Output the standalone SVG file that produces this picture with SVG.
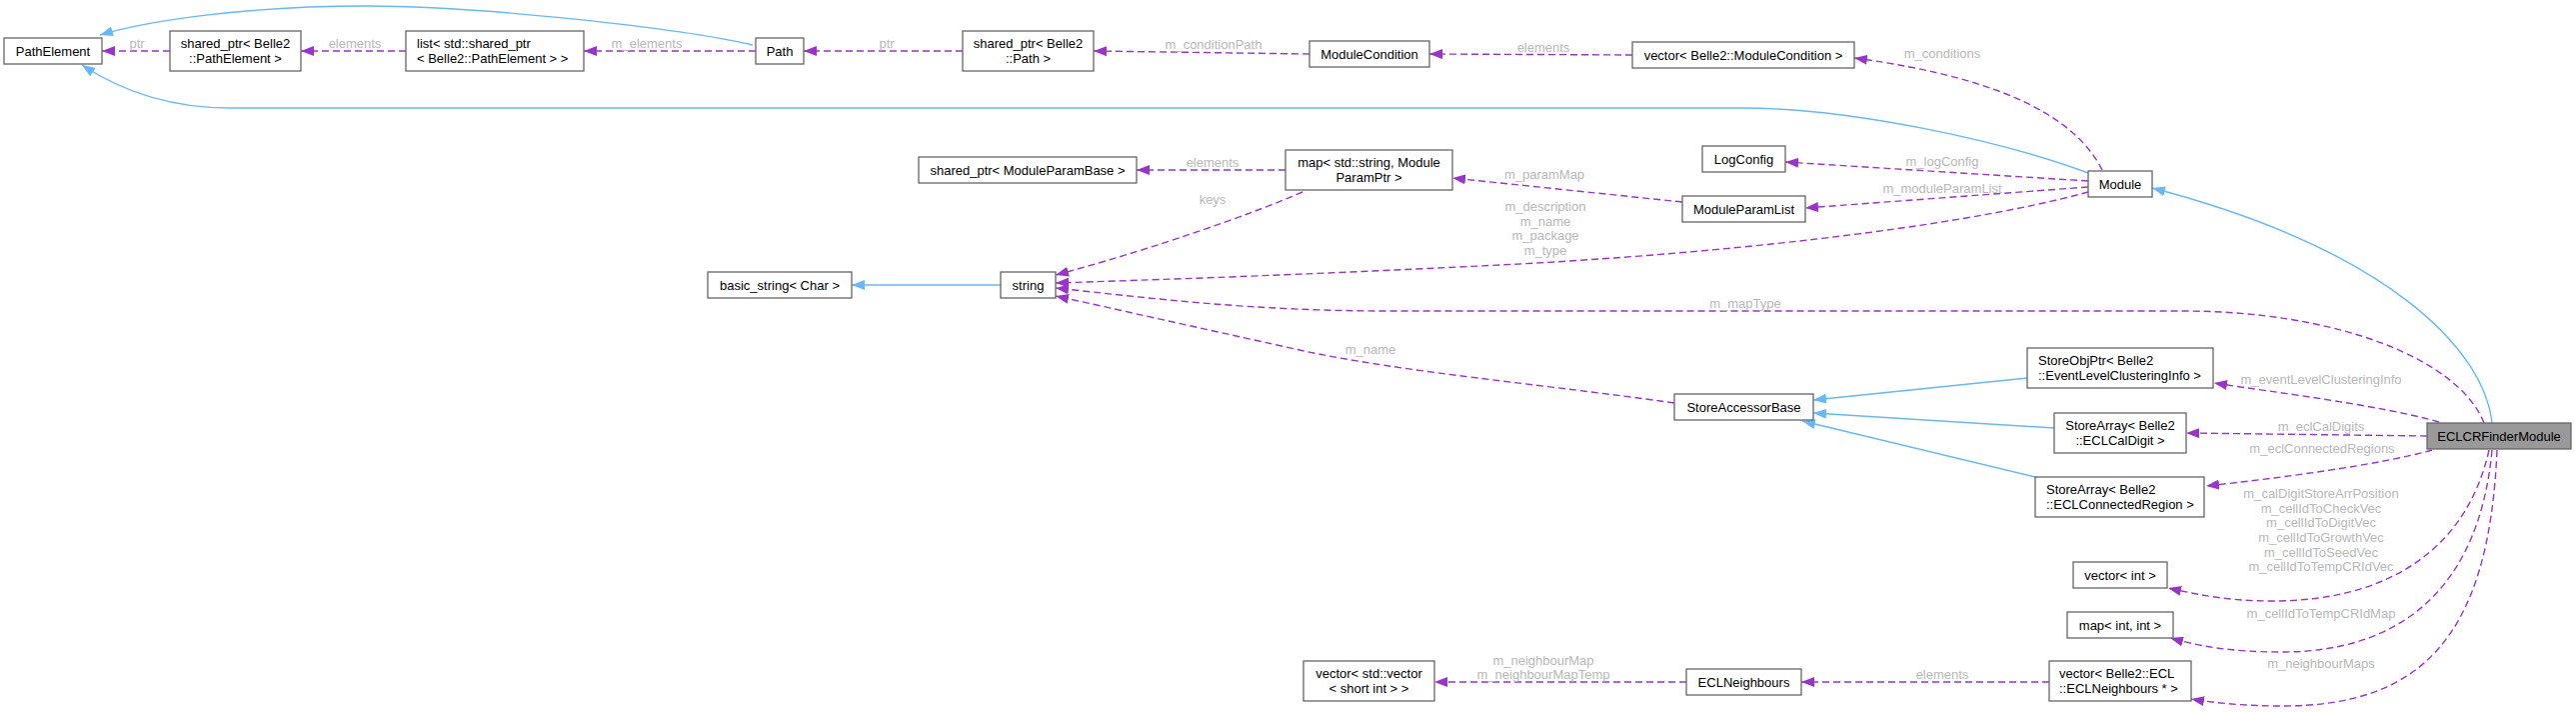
<svg xmlns="http://www.w3.org/2000/svg" width="2577" height="712" viewBox="0 0 2577 712">
<defs>
<style>
.n rect{fill:#ffffff;stroke:#666666;stroke-width:1.3}
.n.cur rect{fill:#999999}
.t{font-family:"Liberation Sans",Arial,sans-serif;font-size:13px;fill:#000000}
.c{text-anchor:middle}
.l{font-family:"Liberation Sans",Arial,sans-serif;font-size:13px;fill:#b8b8b8;text-anchor:middle}
.dep{fill:none;stroke:#9a32cd;stroke-width:1.4;stroke-dasharray:7,4;marker-end:url(#ap)}
.inh{fill:none;stroke:#63b8ff;stroke-width:1.4;marker-end:url(#ab)}
</style>
<marker id="ap" viewBox="0 0 13 10" refX="13" refY="5" markerWidth="13" markerHeight="10" markerUnits="userSpaceOnUse" orient="auto"><path d="M0,0 L13,5 L0,10 z" fill="#9a32cd" stroke="none"/></marker>
<marker id="ab" viewBox="0 0 13 10" refX="13" refY="5" markerWidth="13" markerHeight="10" markerUnits="userSpaceOnUse" orient="auto"><path d="M0,0 L13,5 L0,10 z" fill="#63b8ff" stroke="none"/></marker>
</defs>
<rect x="0" y="0" width="2577" height="712" fill="#ffffff"/>
<g id="edges">
<path class="dep" d="M170,51 L102,51"/>
<path class="dep" d="M406,51 L301,51"/>
<path class="dep" d="M756,51 L584,51"/>
<path class="dep" d="M963,51 L804,51"/>
<path class="dep" d="M1310,54 L1094,51"/>
<path class="dep" d="M1633,55 L1430,54"/>
<path class="dep" d="M2103,170 C2080,125 2020,80 1855,58"/>
<path class="dep" d="M2089,181 L1786,162"/>
<path class="dep" d="M2089,187 L1806,208"/>
<path class="dep" d="M2089,192 C1950,230 1700,255 1500,265 S1150,280 1056,283"/>
<path class="dep" d="M1286,170 L1137,170"/>
<path class="dep" d="M1683,202 L1453,178"/>
<path class="dep" d="M1303,192 C1250,215 1150,250 1056,275"/>
<path class="dep" d="M2485,423 C2460,360 2340,311 2183,311 L1390,311 C1250,311 1150,298 1056,288"/>
<path class="dep" d="M1675,403 C1550,385 1400,372 1300,350 S1120,310 1056,296"/>
<path class="inh" d="M2089,173 C2000,140 1850,108 1743,108 L230,108 C170,108 120,90 82,65"/>
<path class="inh" d="M753,45 C680,28 480,6 366,6 C250,6 150,20 100,35"/>
<path class="inh" d="M1001,285 L852,285"/>
<path class="inh" d="M2493,423 C2485,350 2390,250 2153,188"/>
<path class="inh" d="M2028,378 L1814,400"/>
<path class="inh" d="M2055,428 L1814,413"/>
<path class="inh" d="M2036,477 L1803,421"/>
<path class="dep" d="M2440,422 C2380,405 2280,393 2215,383"/>
<path class="dep" d="M2428,436 L2187,433"/>
<path class="dep" d="M2433,450 C2380,465 2280,478 2207,486"/>
<path class="dep" d="M2490,450 C2470,540 2400,601 2273,601 C2230,601 2200,595 2169,588"/>
<path class="dep" d="M2493,450 C2480,590 2400,652 2283,652 C2230,652 2200,646 2171,638"/>
<path class="dep" d="M2498,450 C2490,640 2420,706 2283,706 C2240,706 2210,702 2192,699"/>
<path class="dep" d="M2050,682 L1802,682"/>
<path class="dep" d="M1687,682 L1435,682"/>
<text class="l" x="137" y="47.5">ptr</text>
<text class="l" x="355" y="47.5">elements</text>
<text class="l" x="647" y="47.5">m_elements</text>
<text class="l" x="887" y="47.5">ptr</text>
<text class="l" x="1214" y="48.5">m_conditionPath</text>
<text class="l" x="1544" y="51.5">elements</text>
<text class="l" x="1943" y="57.5">m_conditions</text>
<text class="l" x="1213" y="166.5">elements</text>
<text class="l" x="1545" y="178.5">m_paramMap</text>
<text class="l" x="1213" y="203.5">keys</text>
<text class="l" x="1943" y="165.5">m_logConfig</text>
<text class="l" x="1943" y="192.5">m_moduleParamList</text>
<text class="l" x="1546" y="210.5">m_description</text>
<text class="l" x="1546" y="225.5">m_name</text>
<text class="l" x="1546" y="239.5">m_package</text>
<text class="l" x="1546" y="254.5">m_type</text>
<text class="l" x="1746" y="307.5">m_mapType</text>
<text class="l" x="1371" y="353.5">m_name</text>
<text class="l" x="2322" y="383.5">m_eventLevelClusteringInfo</text>
<text class="l" x="2322" y="430.5">m_eclCalDigits</text>
<text class="l" x="2323" y="452.5">m_eclConnectedRegions</text>
<text class="l" x="2322" y="497.5">m_calDigitStoreArrPosition</text>
<text class="l" x="2322" y="512.5">m_cellIdToCheckVec</text>
<text class="l" x="2322" y="527">m_cellIdToDigitVec</text>
<text class="l" x="2322" y="541.5">m_cellIdToGrowthVec</text>
<text class="l" x="2322" y="556.5">m_cellIdToSeedVec</text>
<text class="l" x="2322" y="571">m_cellIdToTempCRIdVec</text>
<text class="l" x="2322" y="617.5">m_cellIdToTempCRIdMap</text>
<text class="l" x="2322" y="667.5">m_neighbourMaps</text>
<text class="l" x="1943" y="678.5">elements</text>
<text class="l" x="1544" y="664.5">m_neighbourMap</text>
<text class="l" x="1544" y="678.5">m_neighbourMapTemp</text>
</g>
<g id="PathElement" class="n"><rect x="4" y="38" width="98" height="26"/><text class="t c" x="53" y="55.5">PathElement</text></g>
<g id="SharedPtrPathElement" class="n"><rect x="170" y="31" width="131" height="40"/><text class="t c" x="235.5" y="47.5">shared_ptr&lt; Belle2</text><text class="t c" x="235.5" y="62.5">::PathElement &gt;</text></g>
<g id="ListSharedPtr" class="n"><rect x="406" y="31" width="178" height="40"/><text class="t" x="417" y="47.5">list&lt; std::shared_ptr</text><text class="t" x="417" y="62.5">&lt; Belle2::PathElement &gt; &gt;</text></g>
<g id="Path" class="n"><rect x="756" y="38" width="48" height="26"/><text class="t c" x="780" y="55.5">Path</text></g>
<g id="SharedPtrPath" class="n"><rect x="963" y="31" width="131" height="40"/><text class="t c" x="1028.5" y="47.5">shared_ptr&lt; Belle2</text><text class="t c" x="1028.5" y="62.5">::Path &gt;</text></g>
<g id="ModuleCondition" class="n"><rect x="1310" y="41" width="120" height="26"/><text class="t c" x="1370" y="58.5">ModuleCondition</text></g>
<g id="VectorModuleCondition" class="n"><rect x="1633" y="42" width="222" height="26"/><text class="t c" x="1744" y="59.5">vector&lt; Belle2::ModuleCondition &gt;</text></g>
<g id="SharedPtrModuleParamBase" class="n"><rect x="919" y="157" width="218" height="26"/><text class="t c" x="1028" y="174.5">shared_ptr&lt; ModuleParamBase &gt;</text></g>
<g id="MapModuleParamPtr" class="n"><rect x="1286" y="150" width="167" height="40"/><text class="t c" x="1369.5" y="166.5">map&lt; std::string, Module</text><text class="t c" x="1369.5" y="181.5">ParamPtr &gt;</text></g>
<g id="LogConfig" class="n"><rect x="1703" y="146" width="83" height="26"/><text class="t c" x="1744.5" y="163.5">LogConfig</text></g>
<g id="ModuleParamList" class="n"><rect x="1683" y="196" width="123" height="26"/><text class="t c" x="1744.5" y="213.5">ModuleParamList</text></g>
<g id="Module" class="n"><rect x="2089" y="171" width="64" height="26"/><text class="t c" x="2121" y="188.5">Module</text></g>
<g id="BasicString" class="n"><rect x="708" y="272" width="144" height="26"/><text class="t c" x="780" y="289.5">basic_string&lt; Char &gt;</text></g>
<g id="String" class="n"><rect x="1001" y="272" width="55" height="26"/><text class="t c" x="1028.5" y="289.5">string</text></g>
<g id="StoreAccessorBase" class="n"><rect x="1675" y="394" width="139" height="26"/><text class="t c" x="1744.5" y="411.5">StoreAccessorBase</text></g>
<g id="StoreObjPtrEventLevelClusteringInfo" class="n"><rect x="2028" y="348" width="186" height="40"/><text class="t" x="2039" y="364.5">StoreObjPtr&lt; Belle2</text><text class="t" x="2039" y="379.5">::EventLevelClusteringInfo &gt;</text></g>
<g id="StoreArrayECLCalDigit" class="n"><rect x="2055" y="413" width="132" height="40"/><text class="t c" x="2121" y="429.5">StoreArray&lt; Belle2</text><text class="t c" x="2121" y="444.5">::ECLCalDigit &gt;</text></g>
<g id="ECLCRFinderModule" class="n cur"><rect x="2428" y="423" width="144" height="26"/><text class="t c" x="2500" y="440.5">ECLCRFinderModule</text></g>
<g id="StoreArrayECLConnectedRegion" class="n"><rect x="2036" y="477" width="169" height="40"/><text class="t" x="2047" y="493.5">StoreArray&lt; Belle2</text><text class="t" x="2047" y="508.5">::ECLConnectedRegion &gt;</text></g>
<g id="VectorInt" class="n"><rect x="2074" y="562" width="94" height="26"/><text class="t c" x="2121" y="579.5">vector&lt; int &gt;</text></g>
<g id="MapIntInt" class="n"><rect x="2068" y="612" width="106" height="26"/><text class="t c" x="2121" y="629.5">map&lt; int, int &gt;</text></g>
<g id="VectorECLNeighbours" class="n"><rect x="2050" y="661" width="142" height="40"/><text class="t" x="2060" y="677.5">vector&lt; Belle2::ECL</text><text class="t" x="2060" y="692.5">::ECLNeighbours * &gt;</text></g>
<g id="ECLNeighbours" class="n"><rect x="1687" y="669" width="115" height="26"/><text class="t c" x="1744.5" y="686.5">ECLNeighbours</text></g>
<g id="VectorVectorShort" class="n"><rect x="1304" y="661" width="131" height="40"/><text class="t c" x="1369.5" y="677.5">vector&lt; std::vector</text><text class="t c" x="1369.5" y="692.5">&lt; short int &gt; &gt;</text></g>
</svg>
